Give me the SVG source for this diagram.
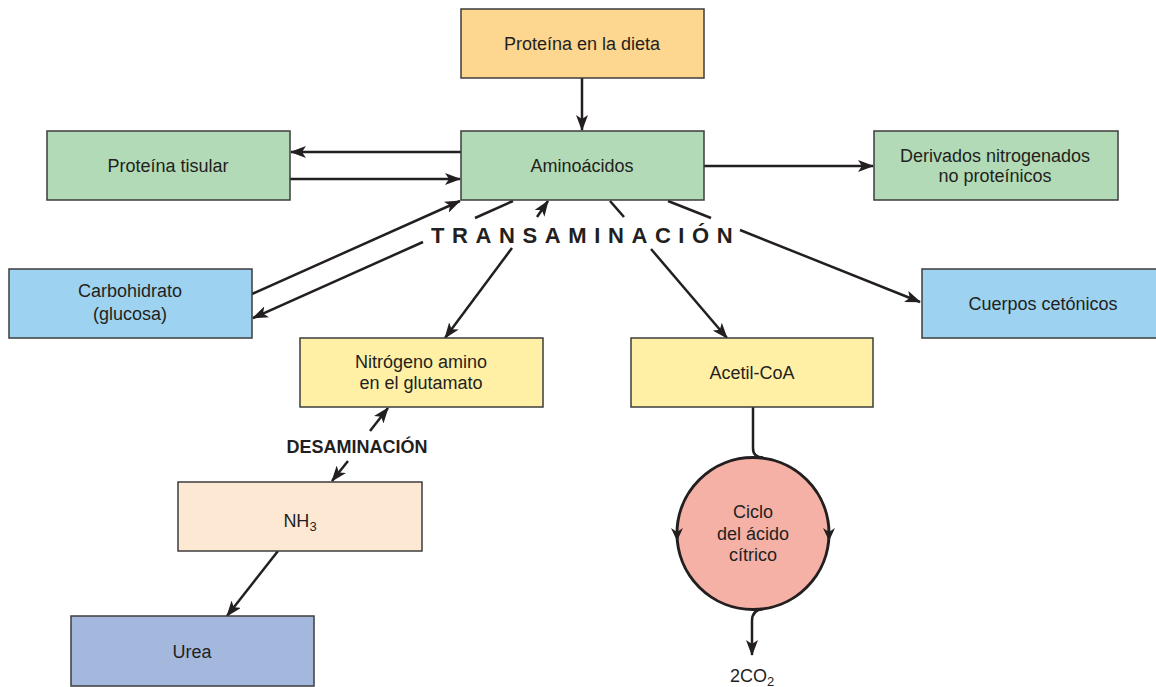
<svg xmlns="http://www.w3.org/2000/svg" width="1156" height="687" viewBox="0 0 1156 687">
<defs>
<style>
.box{stroke:#3d3d3d;stroke-width:1.5}
.t{font-family:"Liberation Sans",Arial,sans-serif;font-size:18px;fill:#231f20;text-anchor:middle}
.b{font-weight:bold}
.c{fill:none;stroke:#231f20;stroke-width:2.5}
.ah{fill:#231f20}
</style>
<marker id="a" viewBox="0 0 16 12" refX="15" refY="6" markerWidth="16" markerHeight="12" markerUnits="userSpaceOnUse" orient="auto">
<path d="M0,0 L16,6 L0,12 L4,6 Z" fill="#231f20"/>
</marker>
</defs>
<rect width="1156" height="687" fill="#ffffff"/>

<g id="connectors">
<line class="c" x1="582" y1="78" x2="582" y2="130" marker-end="url(#a)"/>
<line class="c" x1="461" y1="152" x2="291" y2="152" marker-end="url(#a)"/>
<line class="c" x1="290" y1="179" x2="460" y2="179" marker-end="url(#a)"/>
<line class="c" x1="703" y1="166" x2="873" y2="166" marker-end="url(#a)"/>
<line class="c" x1="252" y1="294" x2="460" y2="201" marker-end="url(#a)"/>
<line class="c" x1="513" y1="201" x2="475" y2="218"/>
<line class="c" x1="423" y1="242" x2="253" y2="318" marker-end="url(#a)"/>
<line class="c" x1="537" y1="217" x2="548" y2="201" marker-end="url(#a)"/>
<line class="c" x1="512" y1="248" x2="445" y2="338" marker-end="url(#a)"/>
<line class="c" x1="610" y1="201" x2="624" y2="217"/>
<line class="c" x1="651" y1="249" x2="727" y2="338" marker-end="url(#a)"/>
<line class="c" x1="668" y1="201" x2="711" y2="218"/>
<line class="c" x1="740" y1="230" x2="920" y2="302" marker-end="url(#a)"/>
<line class="c" x1="370" y1="431" x2="388" y2="408" marker-end="url(#a)"/>
<line class="c" x1="348" y1="461" x2="332" y2="481" marker-end="url(#a)"/>
<line class="c" x1="278" y1="551" x2="227" y2="616" marker-end="url(#a)"/>
<path class="c" d="M753,407 L753,448 Q753,457.5 763,457.5"/>
<path class="c" d="M763,609 Q752,610 752,621 L752,655" marker-end="url(#a)"/>
</g>

<g id="n-dieta">
<rect class="box" x="461" y="9" width="243" height="69" fill="#fdd68f"/>
<text class="t" x="582" y="50">Proteína en la dieta</text>
</g>
<g id="n-aminoacidos">
<rect class="box" x="461" y="131" width="243" height="69" fill="#b2dab6"/>
<text class="t" x="582" y="172">Aminoácidos</text>
</g>
<g id="n-tisular">
<rect class="box" x="47" y="131" width="243" height="69" fill="#b2dab6"/>
<text class="t" x="168" y="172">Proteína tisular</text>
</g>
<g id="n-derivados">
<rect class="box" x="874" y="131" width="244" height="69" fill="#b2dab6"/>
<text class="t" x="995" y="162">Derivados nitrogenados</text>
<text class="t" x="995" y="182">no proteínicos</text>
</g>
<g id="n-carbohidrato">
<rect class="box" x="9" y="269" width="243" height="69" fill="#9dd3f0"/>
<text class="t" x="130" y="297">Carbohidrato</text>
<text class="t" x="130" y="320">(glucosa)</text>
</g>
<g id="n-cetonicos">
<rect class="box" x="922" y="269" width="243" height="69" fill="#9dd3f0"/>
<text class="t" x="1043" y="310">Cuerpos cetónicos</text>
</g>
<g id="n-transaminacion">
<text class="t b" x="431" y="243" style="font-size:22px;text-anchor:start;letter-spacing:7.6px">TRANSAMINACIÓN</text>
</g>
<g id="n-nitrogeno">
<rect class="box" x="300" y="338" width="243" height="69" fill="#fff0a6"/>
<text class="t" x="421" y="368">Nitrógeno amino</text>
<text class="t" x="421" y="389">en el glutamato</text>
</g>
<g id="n-acetil">
<rect class="box" x="631" y="338" width="242" height="69" fill="#fff0a6"/>
<text class="t" x="752" y="379">Acetil-CoA</text>
</g>
<g id="n-desaminacion">
<text class="t b" x="357" y="453">DESAMINACIÓN</text>
</g>
<g id="n-nh3">
<rect class="box" x="178" y="482" width="244" height="69" fill="#fde8d4"/>
<text class="t" x="300" y="527">NH<tspan dy="4" font-size="13">3</tspan></text>
</g>
<g id="n-urea">
<rect class="box" x="71" y="616" width="243" height="70" fill="#a4b8de"/>
<text class="t" x="192" y="658">Urea</text>
</g>
<g id="n-ciclo">
<circle cx="753" cy="533.5" r="76" fill="#f5b1a6" stroke="#231f20" stroke-width="3"/>
<path class="ah" d="M671,528 L677,541 L683,528 L677,532 Z"/>
<path class="ah" d="M823,528 L829,541 L835,528 L829,532 Z"/>
<text class="t" x="753" y="518">Ciclo</text>
<text class="t" x="753" y="540">del ácido</text>
<text class="t" x="753" y="561">cítrico</text>
</g>
<g id="n-co2">
<text class="t" x="752" y="682">2CO<tspan dy="4" font-size="13">2</tspan></text>
</g>
</svg>
